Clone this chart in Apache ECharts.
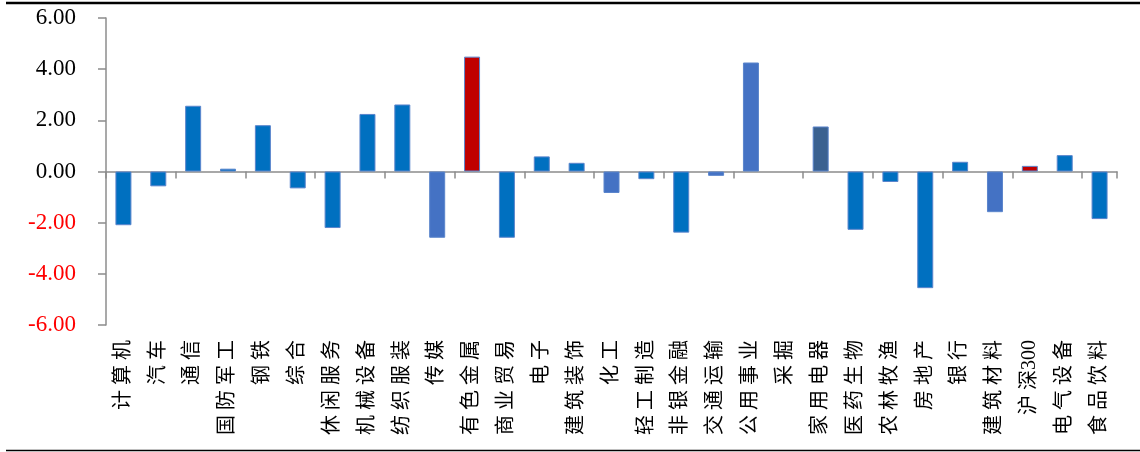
<!DOCTYPE html>
<html>
<head>
<meta charset="utf-8">
<script src="https://cdn.jsdelivr.net/npm/echarts@6/dist/echarts.min.js"></script>
<style>
  html, body { margin: 0; padding: 0; background: #fff; }
  #chart { width: 1140px; height: 452px; }
</style>
</head>
<body>
<div id="chart"></div>
<script>
// 行业涨跌幅(%)
const industries = ['计算机', '汽车', '通信', '国防军工', '钢铁', '综合', '休闲服务', '机械设备', '纺织服装', '传媒',
  '有色金属', '商业贸易', '电子', '建筑装饰', '化工', '轻工制造', '非银金融', '交通运输', '公用事业', '采掘',
  '家用电器', '医药生物', '农林牧渔', '房地产', '银行', '建筑材料', '沪深300', '电气设备', '食品饮料'];
const changes = [-2.10, -0.58, 2.57, 0.11, 1.81, -0.66, -2.21, 2.25, 2.62, -2.59,
  4.49, -2.59, 0.59, 0.34, -0.84, -0.30, -2.39, -0.17, 4.26, 0,
  1.76, -2.28, -0.41, -4.56, 0.38, -1.59, 0.22, 0.64, -1.86];
const yTicks = [-6, -4, -2, 0, 2, 4, 6];

// 特殊颜色的柱子
const redBars = ['有色金属', '沪深300'];
const lightBars = ['传媒', '化工', '交通运输', '公用事业', '建筑材料'];
const darkBars = ['家用电器'];

function barColor(name) {
  if (redBars.includes(name)) return '#C00000';
  if (lightBars.includes(name)) return '#4472C4';
  if (darkBars.includes(name)) return '#3A6190';
  return '#0070C0';
}

const seriesData = changes.map((v, i) => ({
  value: v,
  itemStyle: {
    color: barColor(industries[i]),
    borderWidth: v === 0 ? 0 : 1
  }
}));

const axisGray = '#8c8c8c';

let myChart = echarts.init(document.getElementById('chart'));
let options = {
  animation: false,
  grid: {
    left: 106,
    right: 23,
    top: 18,
    bottom: 127
  },
  xAxis: [
    {
      type: 'category',
      data: industries,
      axisLine: { onZero: true, lineStyle: { color: axisGray, width: 1.5 } },
      axisTick: { show: true, length: 7, inside: false, lineStyle: { color: axisGray, width: 1.5 } },
      axisLabel: { show: false }
    },
    {
      type: 'category',
      position: 'bottom',
      data: industries,
      axisLine: { show: false, onZero: false },
      axisTick: { show: false },
      axisLabel: {
        interval: 0,
        rotate: 90,
        margin: 15,
        fontSize: 20,
        color: '#000',
        fontFamily: "'Liberation Serif', 'Noto Sans CJK SC'",
        formatter: function (v) {
          // 汉字之间加空格, 数字保持连续
          return v.replace(/([^\d])(?=[^\d])/g, '$1 ');
        }
      }
    }
  ],
  yAxis: {
    type: 'value',
    min: yTicks[0],
    max: yTicks[yTicks.length - 1],
    interval: 2,
    axisLine: { show: true, lineStyle: { color: axisGray, width: 1.5 } },
    axisTick: { show: true, length: 8, lineStyle: { color: axisGray, width: 1.5 } },
    splitLine: { show: false },
    axisLabel: {
      margin: 30,
      fontSize: 23,
      fontFamily: 'Liberation Serif',
      formatter: function (v) { return v.toFixed(2); },
      color: function (v) { return Number(v) < 0 ? '#FF0000' : '#000'; }
    }
  },
  series: [
    {
      type: 'bar',
      xAxisIndex: 0,
      barWidth: 16,
      data: seriesData,
      itemStyle: { borderColor: '#5B85CC', borderWidth: 1 }
    }
  ],
  graphic: [
    {
      type: 'line',
      shape: { x1: 6, y1: 3, x2: 1140, y2: 3 },
      style: { stroke: '#000', lineWidth: 2.5 }
    },
    {
      type: 'line',
      shape: { x1: 6, y1: 450.5, x2: 1140, y2: 450.5 },
      style: { stroke: '#000', lineWidth: 1.5 }
    }
  ]
};
myChart.setOption(options);
</script>
</body>
</html>
